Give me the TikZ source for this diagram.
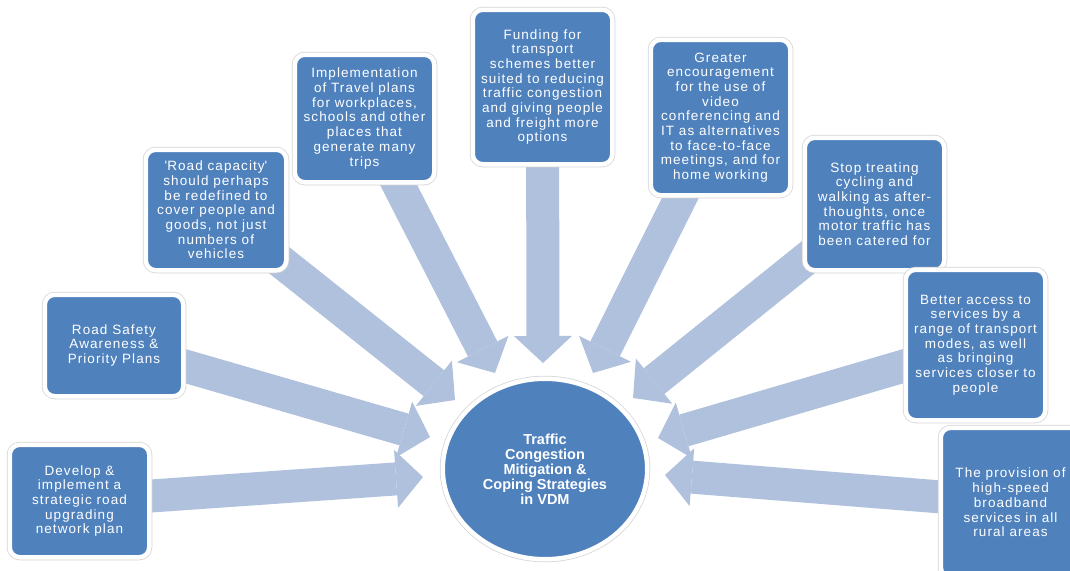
\documentclass[tikz,border=0pt]{standalone}
\usepackage{fontspec}
\setmainfont{Liberation Sans}
\newfontfamily\boxfont[LetterSpace=8]{Liberation Sans}
\usetikzlibrary{arrows.meta,shapes.geometric,backgrounds}
\definecolor{boxblue}{HTML}{4F81BD}
\definecolor{arrowblue}{HTML}{B0C1DD}
\definecolor{ringgray}{HTML}{D4D4D4}
\tikzset{
  ringed/.style={fill=boxblue, draw=white, line width=4.5pt,
    preaction={draw=ringgray, line width=6pt}},
  idea/.style={ringed, rectangle, rounded corners=10pt, inner sep=0pt,
    text=white, align=center, font=\boxfont\fontsize{13.5}{14.7}\selectfont},
  hub/.style={ringed, ellipse, inner sep=0pt, minimum width=204.5pt,
    minimum height=180.5pt, text=white, align=center,
    font=\bfseries\fontsize{14.5}{15}\selectfont},
  flow/.style={draw=arrowblue, line width=33pt,
    -{Triangle[length=27pt,width=58pt,line width=0pt]}},
}
\begin{document}
\begin{tikzpicture}[x=1pt,y=-1pt]
\useasboundingbox (0,0) rectangle (1070,570);

\node[hub] (hub) at (545,469) {Traffic\\Congestion\\Mitigation \&\\Coping Strategies\\in VDM};

\node[idea, minimum width=139.5pt, minimum height=112.5pt] (b1) at (79.5,501)
  {Develop \&\\implement a\\strategic road\\upgrading\\network plan};
\node[idea, minimum width=138.5pt, minimum height=101.5pt] (b2) at (114,345.5)
  {Road Safety\\Awareness \&\\Priority Plans};
\node[idea, minimum width=140.5pt, minimum height=120.5pt] (b3) at (216,210)
  {\textquotesingle Road capacity\textquotesingle\\should perhaps\\be redefined to\\cover people and\\goods, not just\\numbers of\\vehicles};
\node[idea, minimum width=139.5pt, minimum height=127.5pt] (b4) at (364.5,118.5)
  {Implementation\\of Travel plans\\for workplaces,\\schools and other\\places that\\generate many\\trips};
\node[idea, minimum width=139.5pt, minimum height=154.5pt] (b5) at (542.5,87)
  {Funding for\\transport\\schemes better\\suited to reducing\\traffic congestion\\and giving people\\and freight more\\options};
\node[idea, minimum width=139.5pt, minimum height=155.5pt] (b6) at (720.5,117.5)
  {Greater\\encouragement\\for the use of\\video\\conferencing and\\IT as alternatives\\to face-to-face\\meetings, and for\\home working};
\node[idea, minimum width=139.5pt, minimum height=132.5pt] (b7) at (874.5,204)
  {Stop treating\\cycling and\\walking as after-\\thoughts, once\\motor traffic has\\been catered for};
\node[idea, minimum width=139.5pt, minimum height=150.5pt] (b8) at (975.5,345)
  {Better access to\\services by a\\range of transport\\modes, as well\\as bringing\\services closer to\\people};
\node[idea, minimum width=139.5pt, minimum height=149.5pt] (b9) at (1010.5,502.5)
  {The provision of\\high-speed\\broadband\\services in all\\rural areas};

\coordinate (t1) at (423,477);
\coordinate (t2) at (430,437);
\coordinate (t3) at (455,400);
\coordinate (t4) at (495,373);
\coordinate (t5) at (543,363);
\coordinate (t6) at (593,373);
\coordinate (t7) at (633,398);
\coordinate (t8) at (658,438);
\coordinate (t9) at (665,475);

\begin{pgfonlayer}{background}
\draw[flow] (b1.center) -- (t1);
\draw[flow] (b2.center) -- (t2);
\draw[flow] (b3.center) -- (t3);
\draw[flow] (b4.center) -- (t4);
\draw[flow] (b5.center) -- (t5);
\draw[flow] (b6.center) -- (t6);
\draw[flow] (b7.center) -- (t7);
\draw[flow] (b8.center) -- (t8);
\draw[flow] (b9.center) -- (t9);
\end{pgfonlayer}
\end{tikzpicture}
\end{document}
